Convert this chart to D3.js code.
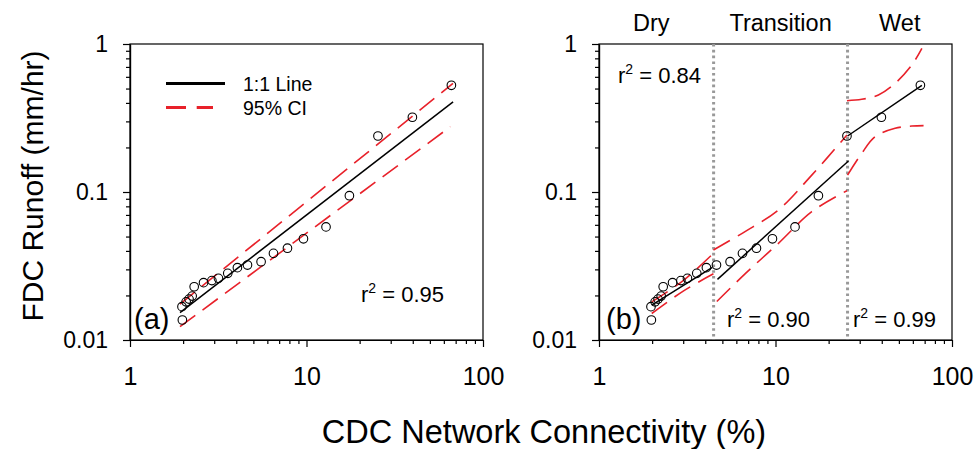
<!DOCTYPE html>
<html><head><meta charset="utf-8">
<script src="https://cdn.jsdelivr.net/npm/d3@7"></script>
<style>
body{margin:0;background:#fff}
text{font-family:"Liberation Sans",Arial,sans-serif;fill:#000}
</style></head>
<body><svg id="c" width="976" height="449"></svg>
<script>
// ---- data ----
const xTickLabels = ["1", "10", "100"];
const yTickLabels = ["0.01", "0.1", "1"];
const xMajor = [1, 10, 100];
const yMajor = [0.01, 0.1, 1];
const connectivity = [1.97, 1.98, 2.08, 2.16, 2.25, 2.31, 2.61, 2.91, 3.17, 3.58, 4.06, 4.63, 5.53, 6.50, 7.80, 9.61, 12.9, 17.5, 25.4, 39.8, 66.2];
const runoff = [0.0168, 0.01365, 0.0181, 0.0189, 0.0198, 0.0229, 0.0244, 0.0252, 0.0261, 0.0282, 0.0308, 0.0321, 0.0338, 0.0385, 0.0417, 0.0483, 0.0581, 0.0944, 0.239, 0.320, 0.526];

// panel (a) regression and CI
const fitAllX = [1.92, 67.7], fitAllY = [0.0153, 0.406];
const ciUpAllX = [1.92, 67.6], ciUpAllY = [0.0175, 0.542];
const ciLoAllX = [1.92, 65.3], ciLoAllY = [0.0123, 0.276];

// panel (b) regime boundaries
const regimeNames = ["Dry", "Transition", "Wet"];
const regimeBounds = [4.46, 25.6];
const regimeR2 = ["0.84", "0.90", "0.99"];

const dryFitX = [1.99, 4.39], dryFitY = [0.0172, 0.0310];
const dryUpX = [1.99, 3.0, 4.45], dryUpY = [0.0181, 0.0252, 0.0385];
const dryLoX = [1.99, 3.0, 4.45], dryLoY = [0.0151, 0.0214, 0.0280];

const trFitX = [4.69, 25.9], trFitY = [0.0257, 0.162];
const trUpX = [4.45, 6.72, 10.39, 16.05, 25.4], trUpY = [0.0406, 0.0540, 0.0756, 0.130, 0.2427];
const trLoX = [4.65, 6.72, 10.39, 16.05, 25.4], trLoY = [0.0182, 0.0280, 0.045, 0.0737, 0.102];

const wetFitX = [25.6, 67.5], wetFitY = [0.239, 0.526];
const wetUpX = [25.4, 30.8, 38.3, 47.6, 59.2, 67.5], wetUpY = [0.414, 0.423, 0.452, 0.542, 0.721, 0.935];
const wetLoX = [25.6, 30.8, 36.7, 47.6, 59.2, 69.0], wetLoY = [0.130, 0.1825, 0.2365, 0.2693, 0.279, 0.281];

// ---- drawing ----
const svg = d3.select("#c");
const RED = "#e8212a";
const y = d3.scaleLog().domain([0.01, 1]).range([340, 44]);
const xa = d3.scaleLog().domain([1, 100]).range([130, 483]);
const xb = d3.scaleLog().domain([1, 100]).range([599, 952]);

function minorTicks(lo, hi) {
  const out = [];
  for (let d = lo; d < hi; d *= 10) for (let k = 2; k <= 9; k++) out.push(d * k);
  return out;
}
const zip = (xs, ys) => xs.map((v, i) => [v, ys[i]]);

function panel(x, tag, tagX) {
  const g = svg.append("g");
  g.append("rect").attr("x", x.range()[0]).attr("y", y.range()[1])
    .attr("width", x.range()[1] - x.range()[0]).attr("height", y.range()[0] - y.range()[1])
    .attr("fill", "none").attr("stroke", "#000").attr("stroke-width", 1.2);
  const gx = g.append("g").attr("transform", `translate(0,${y.range()[0]})`)
    .call(d3.axisBottom(x).tickValues(xMajor).tickSize(7).tickSizeOuter(0)
      .tickFormat((d, i) => xTickLabels[i]));
  gx.selectAll("text").attr("font-size", 25).attr("dy", 0).attr("y", 45)
    .attr("font-family", "Liberation Sans, Arial, sans-serif");
  g.append("g").attr("transform", `translate(0,${y.range()[0]})`)
    .call(d3.axisBottom(x).tickValues(minorTicks(1, 100)).tickSize(4).tickSizeOuter(0).tickFormat(""));
  const gy = g.append("g").attr("transform", `translate(${x.range()[0]},0)`)
    .call(d3.axisLeft(y).tickValues(yMajor).tickSize(7).tickSizeOuter(0)
      .tickFormat((d, i) => yTickLabels[i]));
  gy.selectAll("text").attr("font-size", 23).attr("x", -22)
    .attr("font-family", "Liberation Sans, Arial, sans-serif");
  g.append("g").attr("transform", `translate(${x.range()[0]},0)`)
    .call(d3.axisLeft(y).tickValues(minorTicks(0.01, 1)).tickSize(4).tickSizeOuter(0).tickFormat(""));
  g.selectAll(".domain").attr("stroke", "#000").attr("stroke-width", 1.2);
  g.selectAll(".tick line").attr("stroke", "#000").attr("stroke-width", 1.2);
  g.append("text").attr("x", tagX).attr("y", 329).attr("font-size", 29).text(tag);
  return g;
}

function line(g, x, xs, ys, opts) {
  const gen = d3.line().x(d => x(d[0])).y(d => y(d[1]));
  if (xs.length > 2) gen.curve(d3.curveCatmullRom);
  g.append("path").attr("d", gen(zip(xs, ys))).attr("fill", "none")
    .attr("stroke", opts.color).attr("stroke-width", opts.w)
    .attr("stroke-dasharray", opts.dash || null);
}
function points(g, x) {
  g.selectAll("circle.p").data(zip(connectivity, runoff)).join("circle")
    .attr("class", "p").attr("cx", d => x(d[0])).attr("cy", d => y(d[1])).attr("r", 4.3)
    .attr("fill", "none").attr("stroke", "#000").attr("stroke-width", 1.1);
}
function r2(g, xPos, yPos, val) {
  const t = g.append("text").attr("x", xPos).attr("y", yPos).attr("font-size", 22);
  t.append("tspan").text("r");
  t.append("tspan").attr("font-size", 14).attr("dy", -9).text("2");
  t.append("tspan").attr("dy", 9).text(" = " + val);
}

const dashRed = { color: RED, w: 1.6, dash: "19,9" };
const solid = { color: "#000", w: 1.5 };

// Panel (a)
const ga = panel(xa, "(a)", 134);
line(ga, xa, ciUpAllX, ciUpAllY, dashRed);
line(ga, xa, ciLoAllX, ciLoAllY, dashRed);
line(ga, xa, fitAllX, fitAllY, solid);
points(ga, xa);
r2(ga, 361, 302, "0.95");
ga.append("line").attr("x1", 166).attr("x2", 225).attr("y1", 83.5).attr("y2", 83.5)
  .attr("stroke", "#000").attr("stroke-width", 3);
ga.append("line").attr("x1", 166).attr("x2", 213).attr("y1", 107.5).attr("y2", 107.5)
  .attr("stroke", RED).attr("stroke-width", 3).attr("stroke-dasharray", "20,10.7");
ga.append("text").attr("x", 243).attr("y", 91).attr("font-size", 19.5).text("1:1 Line");
ga.append("text").attr("x", 243).attr("y", 115).attr("font-size", 19.5).text("95% CI");

// Panel (b)
const gb = panel(xb, "(b)", 606);
regimeBounds.forEach(b => {
  gb.append("line").attr("x1", xb(b)).attr("x2", xb(b)).attr("y1", y.range()[1]).attr("y2", y.range()[0])
    .attr("stroke", "#999").attr("stroke-width", 3).attr("stroke-dasharray", "2.6,3.2");
});
line(gb, xb, dryUpX, dryUpY, dashRed);
line(gb, xb, dryLoX, dryLoY, dashRed);
line(gb, xb, trUpX, trUpY, dashRed);
line(gb, xb, trLoX, trLoY, dashRed);
line(gb, xb, wetUpX, wetUpY, dashRed);
line(gb, xb, wetLoX, wetLoY, dashRed);
line(gb, xb, dryFitX, dryFitY, solid);
line(gb, xb, trFitX, trFitY, solid);
line(gb, xb, wetFitX, wetFitY, solid);
points(gb, xb);
r2(gb, 618, 83, regimeR2[0]);
r2(gb, 727, 327, regimeR2[1]);
r2(gb, 853, 327, regimeR2[2]);
const labelX = [
  (xb(xb.domain()[0]) + xb(regimeBounds[0])) / 2 - 5,
  (xb(regimeBounds[0]) + xb(regimeBounds[1])) / 2,
  (xb(regimeBounds[1]) + xb(xb.domain()[1])) / 2
];
regimeNames.forEach((n, i) => {
  gb.append("text").attr("x", labelX[i]).attr("y", 31).attr("font-size", 23.5)
    .attr("text-anchor", "middle").text(n);
});

// axis titles
svg.append("text").attr("transform", "translate(43,186) rotate(-90)")
  .attr("text-anchor", "middle").attr("font-size", 30).text("FDC Runoff (mm/hr)");
svg.append("text").attr("x", 544).attr("y", 443).attr("text-anchor", "middle")
  .attr("font-size", 32.5).text("CDC Network Connectivity (%)");
</script></body></html>
